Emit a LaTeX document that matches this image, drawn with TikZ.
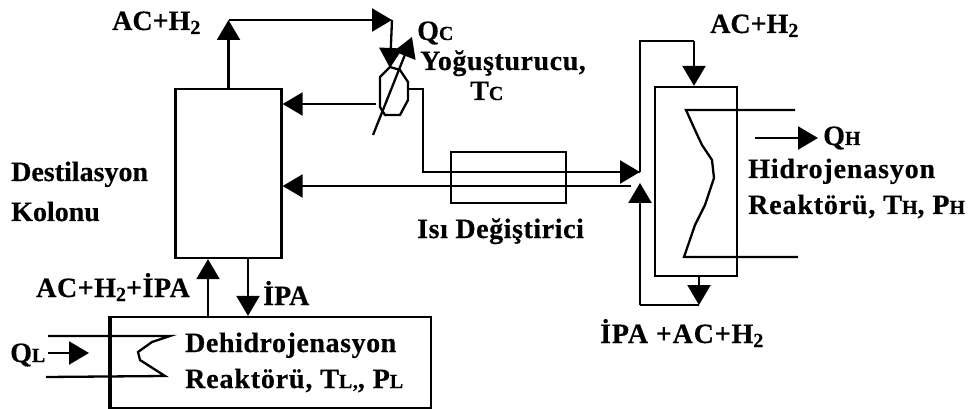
\documentclass[tikz,border=0pt]{standalone}
\usepackage{fontspec}
\setmainfont{Liberation Serif}
\newfontfamily\lblfont{Liberation Serif}[LetterSpace=3,BoldFont={Liberation Serif Bold},BoldFeatures={FakeBold=0.4}]
\newfontfamily\midfont{Liberation Serif}[LetterSpace=2,BoldFont={Liberation Serif Bold},BoldFeatures={FakeBold=0.4}]
\newfontfamily\tightfont{Liberation Serif}[BoldFont={Liberation Serif Bold},BoldFeatures={FakeBold=0.4}]
\usetikzlibrary{arrows.meta,calc}
\newcommand{\sm}[1]{{\fontsize{20}{20}\selectfont #1}}
\newcommand{\lw}[1]{\raisebox{-4pt}{\fontsize{20}{20}\selectfont #1}}
\tikzset{
  x=1pt,y=-1pt,
  pipe/.style={line width=2.3pt,line join=miter},
  flow/.style={pipe,-{Triangle[length=20pt,width=23pt]}},
  unit/.style={draw,line width=2.3pt,inner sep=0pt},
  lbl/.style={inner sep=0pt,anchor=base west,font=\fontsize{28}{28}\selectfont\lblfont\bfseries},
  lbm/.style={inner sep=0pt,anchor=base west,font=\fontsize{28}{28}\selectfont\midfont\bfseries},
  lbt/.style={inner sep=0pt,anchor=base west,font=\fontsize{28}{28}\selectfont\tightfont\bfseries},
}
\begin{document}
\begin{tikzpicture}
\useasboundingbox (0,0) rectangle (970,409);
\fill[white] (0,0) rectangle (970,409);
% units
\node[unit,minimum width=106pt,minimum height=169pt] (col) at (228.5,173.5) {};
\node[unit,minimum width=115pt,minimum height=51pt] (hx) at (508.5,177.5) {};
\node[unit,minimum width=82pt,minimum height=189pt] (hr) at (696,181.5) {};
\node[unit,minimum width=320pt,minimum height=91pt] (dr) at (271,362.5) {};
\draw[line width=4pt] (dr.north west) -- (dr.south west);
\node[inner sep=0pt,minimum width=28pt,minimum height=48pt] (cond) at (394,89) {};
\draw[pipe,line join=round] (390,67) -- (380,77) -- (380,107) -- (385,115) -- (400,115) -- (408,100) -- (408,82) -- (400,70) -- cycle;
% coordinates
\coordinate (tl) at (col.north |- 0,20);
\coordinate (tr) at (392,20);
\coordinate (cnIn) at (390,68);
\coordinate (cnOut) at (423,89);
\coordinate (hxIn) at (423,172);
\coordinate (j1) at (640,172);
\coordinate (j2) at (640,41);
\coordinate (j3) at (694,41);
\coordinate (j4) at (640,305);
\coordinate (j5) at (699,305);
\coordinate (retEnd) at (631,186);
\coordinate (retTip) at (col.east |- retEnd);
\coordinate (qcS) at (373,135);
\coordinate (qcE) at (412,37);
\coordinate (refl) at (376,104);
\coordinate (u1) at (208,316);
\coordinate (d1) at (248,258);
% connectors
\draw[flow] (col.north) -- (tl);
\draw[flow] (tl) -- (tr);
\draw[flow] (tr) -- (cnIn);
\draw[flow] (qcS) -- (qcE);
\draw[flow] (refl) -- (col.east |- refl);
\draw[pipe] (cond.east) -- (cnOut) -- (hxIn) -- (j1);
\draw[flow] (hxIn) -- (j1);
\draw[pipe] (j1) -- (j2) -- (j3);
\draw[flow] (j3) -- (j3 |- hr.north);
\draw[flow] (retEnd) -- (retTip);
\draw[flow] (j5 |- hr.south) -- (j5);
\draw[pipe] (j5) -- (j4);
\draw[flow] (j4) -- (640,183);
\draw[flow] (u1) -- (u1 |- col.south);
\draw[flow] (d1) -- (d1 |- dr.north);
\draw[flow] (48,353) -- (89,353);
\draw[flow] (755,138) -- (818,138);
% hot / cold coils
\draw[pipe] (795,110) -- (686,110) -- (695,130) -- (702,145) -- (712,160) -- (714,178) -- (705,205) -- (695,225) -- (684,257) -- (798,257);
\draw[pipe] (48,336) -- (170,336) -- (152,342) -- (138,352) -- (140,360) -- (165,376) -- (46,377);
% labels
\node[lbt] (a) at (112,30) {AC+H\lw{2}};
\node[lbt] (b) at (417,40) {Q\sm{C}};
\node[lbm] (c) at (420,70) {Yoğuşturucu,};
\node[lbt] (d) at (470,100) {T\sm{C}};
\node[lbt] (e) at (710,33) {AC+H\lw{2}};
\node[lbt] (f) at (823,145) {Q\sm{H}};
\node[lbl] (g) at (748,178) {Hidrojenasyon};
\node[lbl] (h) at (748,214) {Reaktörü, T\sm{H}, P\sm{H}};
\node[lbm] (i) at (417,238) {Isı Değiştirici};
\node[lbt] (j) at (11,181) {Destilasyon};
\node[lbt] (k) at (11,221) {Kolonu};
\node[lbm] (l) at (36,297) {AC+H\lw{2}+İPA};
\node[lbt] (m) at (263,305) {İPA};
\node[lbl] (n) at (600,343) {İPA +AC+H\lw{2}};
\node[lbt] (o) at (10,362) {Q\sm{L}};
\node[lbm] (p) at (185,352) {Dehidrojenasyon};
\node[lbl] (q) at (185,388) {Reaktörü, T\sm{L,}, P\sm{L}};
\end{tikzpicture}
\end{document}
